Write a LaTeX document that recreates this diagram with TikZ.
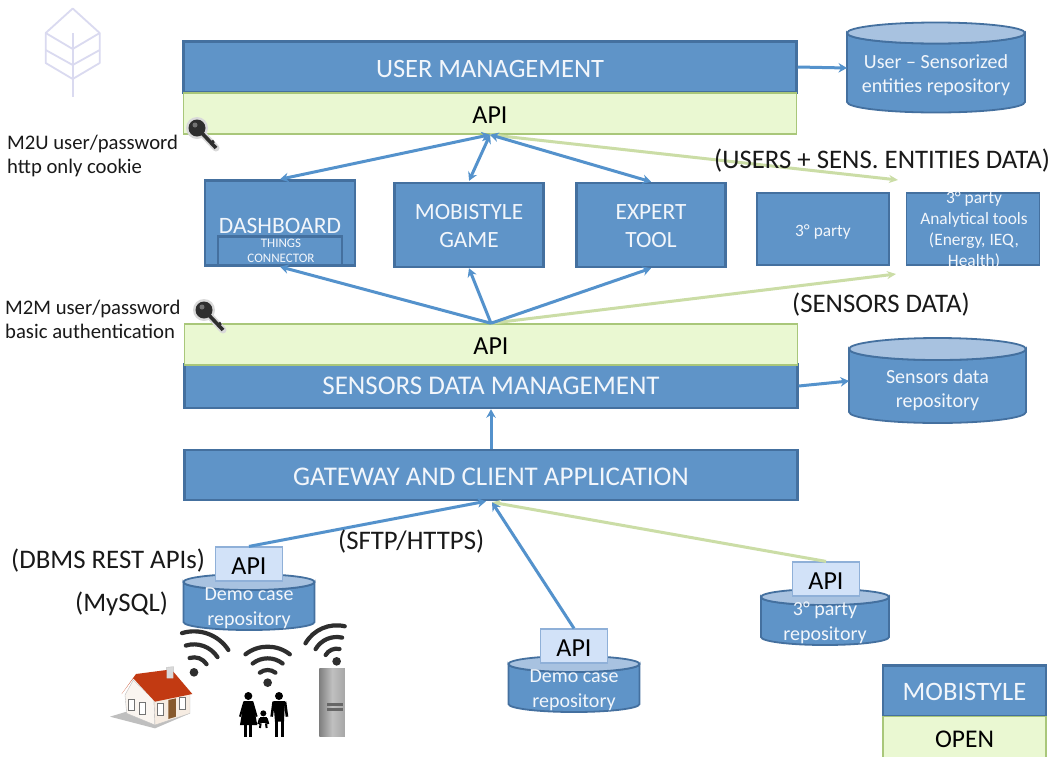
\documentclass[tikz,border=0pt]{standalone}
\usepackage{fontspec}
\setmainfont{Carlito}
\usetikzlibrary{arrows.meta,calc,fit}
\definecolor{bfill}{HTML}{5F94C8}
\definecolor{bline}{HTML}{44709F}
\definecolor{btop}{HTML}{A8C2E0}
\definecolor{gfill}{HTML}{EAF8D2}
\definecolor{gline}{HTML}{A9C77A}
\definecolor{arrowb}{HTML}{5492CC}
\definecolor{arrowg}{HTML}{CBDDA6}
\definecolor{logoc}{HTML}{DADAF0}
\definecolor{txt}{HTML}{F2F6FB}
\definecolor{icon}{HTML}{2E2E2E}
\definecolor{apifill}{HTML}{D2E2F8}
\definecolor{apiline}{HTML}{8FB0D8}
\definecolor{roof}{HTML}{C23A12}
\newcommand\bl[2]{\raisebox{-#1pt}[0pt][0pt]{#2}}
\tikzset{
 bbox/.style={draw=bline,fill=bfill,line width=2.5pt,inner sep=0pt,text=txt,align=center},
 gbox/.style={draw=gline,fill=gfill,line width=1.5pt,inner sep=0pt,text=black,align=center},
 smallapi/.style={draw=apiline,fill=apifill,line width=1.2pt,inner sep=0pt,minimum width=67pt,minimum height=34pt,font=\fontsize{26}{28}\selectfont,text=black},
 plain/.style={inner sep=0pt,align=left,text=black!90},
 ann/.style={plain,font=\fontsize{20.7}{24}\selectfont},
 big/.style={plain,font=\fontsize{26.8}{30}\selectfont},
 ba/.style={draw=arrowb,line width=3pt,-{Stealth[length=8.5pt,width=9.5pt]}},
 bb/.style={draw=arrowb,line width=3pt,{Stealth[length=8.5pt,width=9.5pt]}-{Stealth[length=8.5pt,width=9.5pt]}},
 ga/.style={draw=arrowg,line width=3pt,-{Stealth[length=9pt,width=8pt]}},
 wifi/.style={draw=icon,line width=4.2pt,line cap=round},
 boxtext/.style={inner sep=0pt,align=center,text=txt},
}
% name, centre x, half width, top-ellipse y, bottom y, ry, text, text centre y
\newcommand\repo[8]{%
 \path[fill=bfill,draw=bline,line width=1.8pt] (#2-#3,#4) -- (#2-#3,#5) arc[start angle=180,end angle=0,x radius=#3,y radius=#6] -- (#2+#3,#4) arc[start angle=0,end angle=180,x radius=#3,y radius=#6] -- cycle;
 \path[fill=btop,draw=bline,line width=1.8pt] (#2,#4) ellipse[x radius=#3,y radius=#6];
 \node[inner sep=0pt,align=center,text=txt,font=\fontsize{20}{24.5}\selectfont] (#1) at (#2,#8) {#7};
}
\newcommand\keyicon[2]{%
 \begin{scope}[shift={(#1,#2)}]
 \draw[black!15,line width=7pt,line cap=round] (2,2) -- (19,20);
 \fill[black!15] (0,0) circle[radius=11];
 \draw[icon,line width=3.6pt] (2,2) -- (19,20);
 \draw[icon,line width=3pt] (14,15) -- (17,13);
 \fill[icon] (0,0) circle[radius=8.5];
 \fill[black!55] (-2,-3) circle[radius=2.5];
 \end{scope}
}
\begin{document}
\begin{tikzpicture}[x=1pt,y=-1pt]
\useasboundingbox[fill=white] (0,0) rectangle (1054,756);

% logo
\begin{scope}[draw=logoc,line width=1.8pt,line join=round]
 \coordinate (l1) at (72.7,8.5);
 \draw (l1) -- (99.7,33) -- (99.7,63) -- (72.7,79) -- (45.7,63) -- (45.7,33) -- cycle;
 \draw (45.7,33) -- (72.7,49) -- (99.7,33);
 \draw (45.7,50) -- (72.7,65) -- (99.7,50);
 \draw (72.7,33) -- (72.7,97);
\end{scope}

% main bars
\node[bbox,minimum width=613pt,minimum height=51pt,font=\fontsize{26.5}{30}\selectfont] (um) at (490,67) {\bl{10.5}{USER MANAGEMENT}};
\node[gbox,minimum width=613pt,minimum height=41pt,font=\fontsize{26}{28}\selectfont] (api1) at (490,113.5) {\bl{10.3}{API}};
\node[bbox,minimum width=613pt,minimum height=44pt,font=\fontsize{27}{30}\selectfont] (sdm) at (491,386) {SENSORS DATA MANAGEMENT};
\node[gbox,minimum width=613pt,minimum height=41pt,font=\fontsize{26}{28}\selectfont] (api2) at (491,344.5) {\bl{10}{API}};
\node[bbox,minimum width=613pt,minimum height=50pt,font=\fontsize{27}{30}\selectfont] (gw) at (491,475) {\bl{10.5}{GATEWAY AND CLIENT APPLICATION}};

% middle tools
\node[bbox,minimum width=150pt,minimum height=85pt] (dash) at (280,223) {};
\node[plain,text=txt,font=\fontsize{23.5}{24}\selectfont] (dasht) at (280,226) {DASHBOARD};
\node[draw=bline,line width=2.2pt,minimum width=124pt,minimum height=29pt,inner sep=0pt] (things) at (280,251) {};
\node[boxtext,font=\fontsize{13}{15.5}\selectfont] (thingst) at (281,251) {THINGS\\CONNECTOR};
\node[bbox,minimum width=149pt,minimum height=84pt] (game) at (469,225) {};
\node[boxtext,font=\fontsize{23.3}{28}\selectfont] (gamet) at (469,226.5) {MOBISTYLE\\GAME};
\node[inner sep=0pt,minimum size=0pt] (gameanchor) at (469,181) {};
\node[bbox,minimum width=149pt,minimum height=84pt] (expert) at (651,225) {};
\node[boxtext,font=\fontsize{23.3}{28}\selectfont] (expertt) at (651,226.5) {EXPERT\\TOOL};
\node[bbox,line width=1.8pt,minimum width=132pt,minimum height=72pt,font=\fontsize{17.3}{21}\selectfont] (tp) at (823,229) {\bl{7}{3° party}};
\node[bbox,line width=1.8pt,minimum width=133pt,minimum height=72pt] (an) at (973,229) {};
\node[boxtext,font=\fontsize{17.4}{21}\selectfont] (ant) at (974,230) {3° party\\Analytical tools\\(Energy, IEQ,\\Health)};

% repositories
\repo{ur}{936}{89}{33}{102}{10.5}{User – Sensorized\\entities repository}{75}
\repo{sr}{937.5}{88.5}{349}{412}{11}{Sensors data\\repository}{390}
\repo{d1}{249}{65.5}{582}{622}{8}{Demo case\\repository}{608}
\repo{d2}{574}{65.5}{664}{704}{8}{Demo case\\repository}{690}
\repo{d3}{825}{64}{597}{637}{8}{3° party\\repository}{623}
\node[smallapi] (a1) at (249,564) {\bl{10}{API}};
\node[smallapi] (a2) at (574,646) {\bl{10}{API}};
\node[smallapi] (a3) at (826,579) {\bl{10}{API}};

% connectors
\coordinate (urw) at (847,68);
\coordinate (srw) at (849,381);
\draw[ba] (um.east) -- (urw);
\draw[ba] (sdm.east) -- (srw);
\coordinate (ghubl) at ($(gw.south)+(-5,0)$);
\coordinate (ghubr) at ($(gw.south)+(1,1)$);
\coordinate (hub1) at (api1.south);
\coordinate (hub2) at (api2.north);
\coordinate (f1) at (898,180);
\coordinate (f2) at (896,274);
\draw[ga] (hub1) -- (f1);
\draw[ga] (hub2) -- (f2);
\draw[ga] (a3.north) -- (ghubr);
\draw[bb] (hub1) -- (dash.north);
\draw[bb] (hub1) -- (gameanchor);
\draw[bb] (hub1) -- (expert.north);
\draw[ba] (hub2) -- (dash.south);
\draw[ba] (hub2) -- (game.south);
\draw[ba] (hub2) -- (expert.south);
\draw[ba] (gw.north) -- (sdm.south);
\draw[ba] (a1.north) -- (ghubl);
\draw[ba] (a2.north) -- (ghubr);

% keys
\keyicon{197}{128}
\keyicon{204}{310}

% annotation text
\node[ann,anchor=west] (m2u) at (7,156) {M2U user/password\\http only cookie};
\node[ann,anchor=west] (m2m) at (5,319) {M2M user/password\\basic authentication};
\node[big,anchor=west] (t1) at (714,161) {(USERS + SENS. ENTITIES DATA)};
\node[big,anchor=west] (t2) at (792,305) {(SENSORS DATA)};
\node[big,anchor=west] (t3) at (338,542) {(SFTP/HTTPS)};
\node[big,anchor=west] (t4) at (11,561) {(DBMS REST APIs)};
\node[big,anchor=west] (t5) at (75,604) {(MySQL)};

% legend
\node[bbox,minimum width=163pt,minimum height=51pt,font=\fontsize{26.6}{28}\selectfont] (lg1) at (964.5,691) {\bl{9.5}{MOBISTYLE}};
\node[gbox,minimum width=163pt,minimum height=42pt,font=\fontsize{25.5}{28}\selectfont] (lg2) at (964.5,737.5) {\bl{9.5}{OPEN}};

% house
\begin{scope}[shift={(100,600)},x=0.3333pt,y=-0.3333pt]
 \fill[black!25] (30,350) -- (80,335) -- (165,370) -- (270,340) -- (165,385) -- cycle;
 \fill[white!92!brown,draw=black!25] (75,285) -- (100,240) -- (162,300) -- (165,375) -- (80,340) -- cycle;
 \fill[white!85!brown,draw=black!25] (162,300) -- (270,280) -- (270,340) -- (165,375) -- cycle;
 \fill[black!15,draw=black!25] (200,202) -- (220,200) -- (220,240) -- (200,240) -- cycle;
 \fill[roof] (65,282) -- (108,222) -- (200,210) -- (200,235) -- (220,235) -- (220,215) -- (277,282) -- (165,305) -- (100,235) -- cycle;
 \fill[brown!70!black] (205,300) -- (228,295) -- (228,350) -- (205,357) -- cycle;
 \foreach \a/\b in {85/297,118/308,172/310,238/293}{\fill[white,draw=black!55] (\a,\b) rectangle ++(18,35);}
\end{scope}

% wifi signs
\begin{scope}[shift={(100,600)},x=0.3333pt,y=-0.3333pt]
 \coordinate (w1) at (282,217);
 \coordinate (w2) at (503,248);
 \coordinate (w3) at (710,184);
 \fill[icon] (w1) circle[radius=13];
 \fill[icon] (w2) circle[radius=13];
 \fill[icon] (w3) circle[radius=13];
 \foreach \r in {45,84,123}{
  \draw[wifi] (w1) ++(-107:\r) arc[start angle=-107,end angle=-33,radius=\r];
 }
 \foreach \r in {38,73,108}{
  \draw[wifi] (w2) ++(-128:\r) arc[start angle=-128,end angle=-52,radius=\r];
  \draw[wifi] (w3) ++(-150:\r) arc[start angle=-150,end angle=-77,radius=\r];
 }
 % fridge
 \shade[left color=black!50,right color=black!35,middle color=black!25] (658,205) rectangle (735,410);
 \fill[black!60] (682,310) rectangle (730,318);
 \fill[black!60] (682,324) rectangle (730,332);
 % people
 \fill[black] (445,288) circle[radius=12];
 \fill[black] (537,288) circle[radius=12];
 \fill[black] (490,340) circle[radius=9];
 \fill[black] (432,303) -- (458,303) -- (472,375) -- (420,375) -- cycle;
 \draw[black,line width=2pt] (433,305) -- (420,350) (457,305) -- (470,350);
 \draw[black,line width=3pt] (437,375) -- (437,410) (453,375) -- (453,410);
 \fill[black] (520,303) -- (555,303) -- (552,365) -- (525,365) -- cycle;
 \draw[black,line width=2.6pt] (521,305) -- (515,350) (555,305) -- (561,350);
 \draw[black,line width=3pt] (530,360) -- (530,410) (547,360) -- (547,410);
 \fill[black] (480,350) rectangle (500,370);
 \draw[black,line width=2pt] (482,370) -- (480,384) (498,370) -- (500,384) (480,355) -- (475,372) (500,355) -- (505,372);
\end{scope}
\end{tikzpicture}
\end{document}
